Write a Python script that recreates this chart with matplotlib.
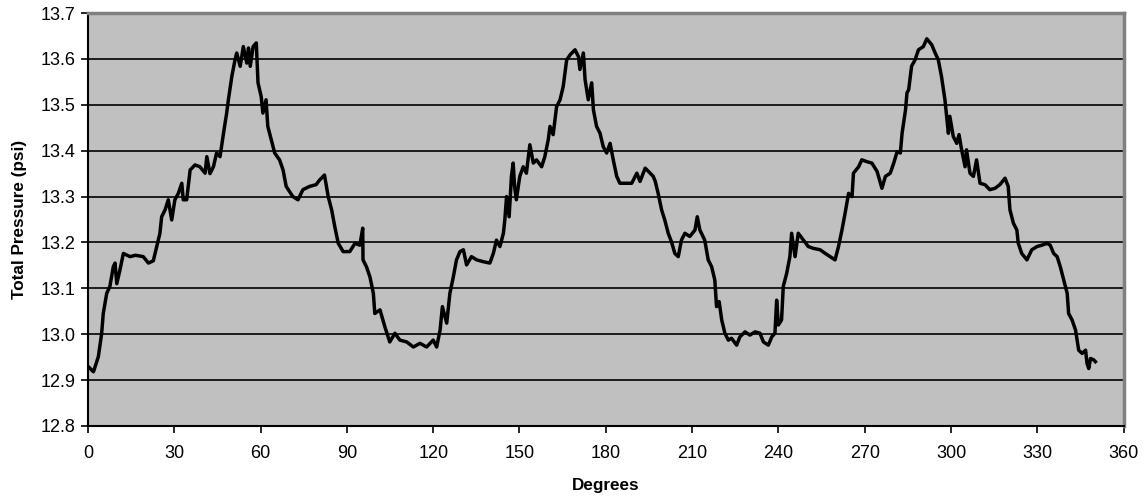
import matplotlib
matplotlib.use("Agg")
import matplotlib.pyplot as plt

plt.rcParams['font.family'] = ['Liberation Sans', 'DejaVu Sans']

# Angle (degrees) and total pressure (psi)
degrees = [
    0.1, 1.9, 3.6, 4.75, 5.3, 6.5, 7.6, 8.8, 9.4, 10.0, 11.1, 12.3, 14.6, 16.5, 19.2,
    21.0, 22.7, 23.9, 25.0, 25.6, 26.8, 27.9, 29.1, 30.2, 31.4, 32.6, 33.1, 34.3,
    35.5, 37.2, 38.9, 40.7, 41.3, 42.4, 43.6, 44.7, 45.9, 47.1, 48.2, 48.8, 50.0,
    51.1, 51.7, 52.9, 54.0, 55.2, 55.8, 56.4, 57.4, 58.5, 59.1, 60.2, 60.8, 61.9,
    62.5, 63.7, 64.9, 66.6, 67.8, 68.9, 71.2, 73.0, 74.7, 77.0, 79.3, 80.5, 82.2,
    83.5, 84.7, 85.8, 87.0, 88.7, 91.0, 92.8, 94.5, 95.5, 95.6, 96.8, 98.0, 99.2,
    99.7, 101.5, 103.2, 104.9, 106.7, 108.4, 110.8, 113.1, 115.4, 117.7, 120.0,
    121.2, 122.4, 123.2, 124.7, 125.8, 127.0, 128.1, 129.3, 130.5, 131.6, 133.3,
    135.1, 137.4, 139.7, 140.9, 142.0, 143.2, 144.4, 144.9, 145.5, 146.4, 147.2,
    147.8, 148.3, 148.9, 150.1, 151.3, 152.4, 153.6, 154.8, 155.9, 157.7, 158.8,
    160.0, 160.6, 161.7, 162.9, 164.1, 165.2, 166.4, 167.6, 169.3, 170.5, 171.0,
    172.2, 172.8, 173.9, 175.1, 175.7, 176.8, 178.0, 179.1, 180.3, 181.5, 182.6,
    183.8, 184.9, 187.3, 189.0, 190.8, 191.9, 193.7, 195.4, 196.5, 197.2, 198.2,
    199.4, 200.5, 201.7, 202.8, 204.0, 205.2, 206.3, 207.5, 209.2, 211.0, 211.8,
    212.7, 214.4, 215.6, 216.8, 217.9, 218.5, 219.4, 220.3, 221.4, 222.6, 223.7,
    225.5, 226.6, 228.4, 230.1, 231.9, 233.6, 234.8, 236.5, 237.7, 238.8, 239.4,
    240.0, 241.1, 241.7, 242.9, 244.0, 244.6, 245.8, 246.9, 248.7, 250.4, 252.2,
    254.5, 256.3, 258.0, 259.7, 260.9, 262.1, 263.2, 264.4, 265.6, 266.1, 267.9,
    269.0, 270.8, 272.5, 274.3, 276.0, 277.2, 278.9, 280.1, 281.3, 282.4, 283.0,
    284.2, 284.7, 285.3, 286.3, 287.5, 288.7, 290.4, 291.6, 293.3, 294.5, 295.6,
    296.7, 297.9, 298.5, 299.1, 299.6, 300.8, 302.0, 302.8, 303.7, 304.9, 305.4,
    306.6, 307.8, 308.9, 310.1, 311.8, 313.5, 315.3, 317.0, 318.8, 319.9, 320.5,
    321.7, 322.9, 323.4, 324.6, 326.4, 328.1, 329.9, 331.6, 333.4, 334.5, 335.7,
    336.9, 338.0, 339.2, 340.4, 340.9, 342.1, 343.3, 344.4, 345.6, 346.8, 347.3,
    347.9, 348.5, 349.6, 350.2,
]
pressure = [
    12.929, 12.918, 12.951, 13.002, 13.045, 13.089, 13.104, 13.147, 13.155, 13.110,
    13.140, 13.176, 13.169, 13.172, 13.169,
    13.155, 13.160, 13.191, 13.220, 13.256, 13.271, 13.293, 13.249, 13.293, 13.307,
    13.329, 13.293, 13.293,
    13.358, 13.369, 13.365, 13.351, 13.387, 13.350, 13.365, 13.395, 13.387, 13.438,
    13.482, 13.511, 13.562,
    13.598, 13.613, 13.584, 13.627, 13.591, 13.624, 13.584, 13.627, 13.635, 13.548,
    13.518, 13.482, 13.511,
    13.453, 13.424, 13.395, 13.380, 13.358, 13.322, 13.300, 13.293, 13.315, 13.322,
    13.326, 13.336, 13.347,
    13.300, 13.271, 13.234, 13.198, 13.180, 13.180, 13.198, 13.194, 13.231, 13.162,
    13.147, 13.125, 13.089,
    13.045, 13.053, 13.016, 12.983, 13.002, 12.987, 12.983, 12.972, 12.980, 12.972,
    12.987,
    12.972, 13.009, 13.060, 13.024, 13.089, 13.125, 13.162, 13.180, 13.184, 13.151,
    13.169,
    13.162, 13.158, 13.155, 13.176, 13.205, 13.191, 13.220, 13.249, 13.300, 13.256,
    13.344,
    13.373, 13.322, 13.293, 13.344, 13.365, 13.351, 13.413, 13.373, 13.380, 13.365,
    13.387,
    13.424, 13.453, 13.435, 13.496, 13.511, 13.540, 13.598, 13.609, 13.620, 13.605,
    13.577,
    13.613, 13.555, 13.511, 13.548, 13.489, 13.453, 13.438, 13.409, 13.395, 13.416,
    13.380,
    13.344, 13.329, 13.329, 13.329, 13.351, 13.333, 13.362, 13.351, 13.344, 13.333,
    13.307,
    13.271, 13.249, 13.220, 13.202, 13.176, 13.169, 13.205, 13.220, 13.213, 13.227,
    13.256,
    13.227, 13.205, 13.162, 13.147, 13.118, 13.060, 13.071, 13.031, 13.002, 12.987,
    12.991,
    12.976, 12.994, 13.005, 12.998, 13.005, 13.002, 12.983, 12.976, 12.994, 13.002,
    13.074,
    13.020, 13.031, 13.104, 13.133, 13.169, 13.220, 13.169, 13.220, 13.205, 13.191,
    13.187,
    13.184, 13.176, 13.169, 13.162, 13.191, 13.227, 13.264, 13.307, 13.300, 13.351,
    13.365,
    13.380, 13.376, 13.373, 13.355, 13.318, 13.344, 13.351, 13.373, 13.398, 13.395,
    13.438,
    13.489, 13.526, 13.533, 13.584, 13.598, 13.620, 13.627, 13.644, 13.631, 13.613,
    13.598,
    13.562, 13.511, 13.475, 13.438, 13.475, 13.431, 13.416, 13.435, 13.402, 13.365,
    13.402,
    13.351, 13.344, 13.380, 13.329, 13.326, 13.315, 13.318, 13.326, 13.340, 13.322,
    13.271,
    13.242, 13.227, 13.198, 13.176, 13.162, 13.184, 13.191, 13.194, 13.198, 13.194,
    13.176,
    13.169, 13.147, 13.118, 13.089, 13.045, 13.031, 13.009, 12.965, 12.958, 12.965,
    12.936,
    12.925, 12.947, 12.944, 12.940,
]

x_ticks = list(range(0, 361, 30))
y_ticks = [12.8, 12.9, 13.0, 13.1, 13.2, 13.3, 13.4, 13.5, 13.6, 13.7]

fig = plt.figure(figsize=(11.43, 5.04), dpi=100)
ax = fig.add_axes([0.077, 0.155, 0.906, 0.819])
ax.set_facecolor('#c0c0c0')

ax.plot(degrees, pressure, color='black', lw=2.5, solid_joinstyle='round')

ax.set_xlim(0, 360)
ax.set_ylim(12.8, 13.7)
ax.set_xticks(x_ticks)
ax.set_yticks(y_ticks)
ax.set_yticklabels([f'{v:.1f}' for v in y_ticks])
ax.yaxis.grid(True, color='black', lw=1.2)
ax.set_axisbelow(True)

ax.tick_params(axis='both', direction='out', length=5, width=1.2, labelsize=13, pad=4)
ax.tick_params(axis='x', pad=9)

for side in ['top', 'right']:
    ax.spines[side].set_color('#808080')
    ax.spines[side].set_linewidth(2.5)
for side in ['left', 'bottom']:
    ax.spines[side].set_color('black')
    ax.spines[side].set_linewidth(1.5)

ax.set_xlabel('Degrees', fontsize=12.3, fontweight='bold', labelpad=11)
ax.set_ylabel('Total Pressure (psi)', fontsize=12.3, fontweight='bold', labelpad=10)

fig.savefig('out.png', dpi=100)
